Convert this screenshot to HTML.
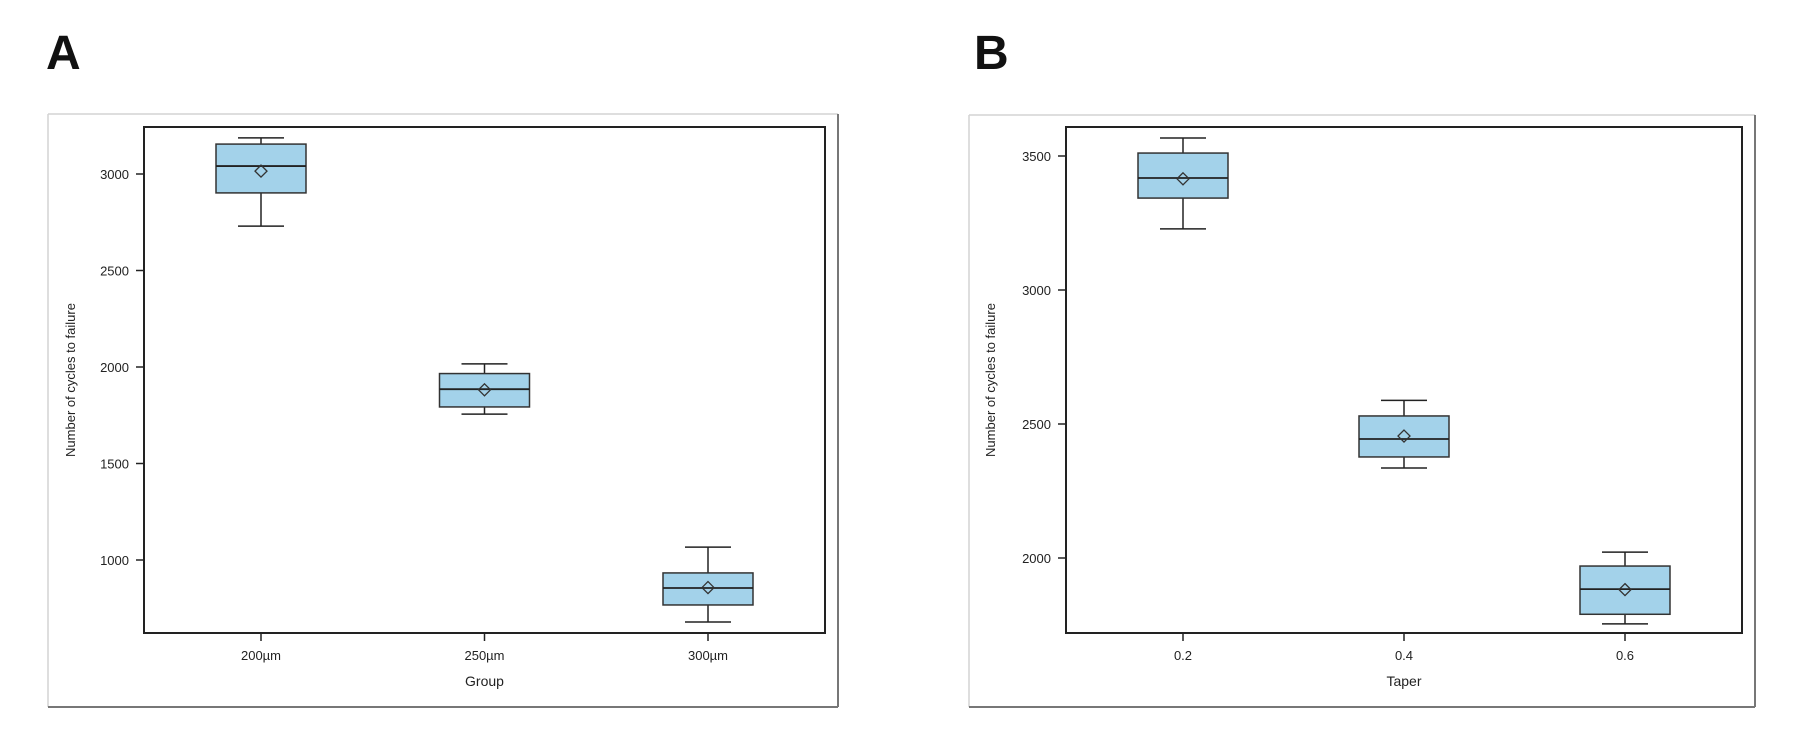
<!DOCTYPE html>
<html><head><meta charset="utf-8"><style>
html,body{margin:0;padding:0;background:#fff;}
svg{display:block;font-family:"Liberation Sans",Arial,sans-serif;}
</style></head><body>
<svg id="c" width="1800" height="755" viewBox="0 0 1800 755"></svg>
<script>
const catsA = ["200µm","250µm","300µm"];
const upperA = [3187,2016,1067];
const q3A = [3155,1966,933];
const medA = [3041,1885,855];
const meanA = [3015,1882,857];
const q1A = [2902,1793,767];
const lowerA = [2730,1756,679];
const ticksA = [1000,1500,2000,2500,3000];

const catsB = ["0.2","0.4","0.6"];
const upperB = [3567,2588,2022];
const q3B = [3511,2530,1970];
const medB = [3418,2444,1884];
const meanB = [3415,2455,1882];
const q1B = [3343,2377,1790];
const lowerB = [3228,2336,1754];
const ticksB = [2000,2500,3000,3500];

const NS="http://www.w3.org/2000/svg";
const svg=document.getElementById('c');
function mk(tag,attrs,parent,name){const e=document.createElementNS(NS,tag);for(const k in attrs)e.setAttribute(k,attrs[k]);


(parent||svg).appendChild(e);return e;}

function panel(cfg){
  const g=mk('g',{},svg,cfg.id);
  const L=cfg.left,R=cfg.right,T=127,B=633;
  const y=v=>cfg.y0+(cfg.v0-v)*cfg.k;
  const n=cfg.cats.length, step=(R-L-234)/(n-1);
  const x=i=>L+117+i*step;
  // outer frame
  mk('line',{x1:cfg.ol,y1:cfg.ot,x2:cfg.or,y2:cfg.ot,stroke:'#d4d4d4','stroke-width':1.5},g,'frame-top');
  mk('line',{x1:cfg.ol,y1:cfg.ot,x2:cfg.ol,y2:707,stroke:'#d4d4d4','stroke-width':1.5},g,'frame-left');
  mk('line',{x1:cfg.or,y1:cfg.ot,x2:cfg.or,y2:707,stroke:'#777','stroke-width':2},g,'frame-right');
  mk('line',{x1:cfg.ol,y1:707,x2:cfg.or,y2:707,stroke:'#777','stroke-width':2},g,'frame-bottom');
  const lab=mk('text',{x:cfg.lx,y:69,'font-size':48,'font-weight':'bold',fill:'#111'},g,'panel-label');lab.textContent=cfg.label;
  mk('rect',{x:L,y:T,width:R-L,height:B-T,fill:'none',stroke:'#222','stroke-width':2},g,'plot-area');
  cfg.ticks.forEach(t=>{const yy=y(t);
    mk('line',{x1:L-8,y1:yy,x2:L,y2:yy,stroke:'#222','stroke-width':1.5},g,'y-tick');
    const tx=mk('text',{x:L-15,y:yy+5,'font-size':13,'text-anchor':'end',fill:'#222'},g,'y-tick-label');tx.textContent=t;});
  const yt=mk('text',{x:0,y:0,'font-size':13,'text-anchor':'middle',fill:'#222',transform:`translate(${cfg.ytx},380) rotate(-90)`},g,'y-axis-title');yt.textContent='Number of cycles to failure';
  const xt=mk('text',{x:(L+R)/2,y:686,'font-size':14,'text-anchor':'middle',fill:'#222'},g,'x-axis-title');xt.textContent=cfg.xtitle;
  cfg.cats.forEach((c,i)=>{const cx=x(i);
    mk('line',{x1:cx,y1:B,x2:cx,y2:B+8,stroke:'#222','stroke-width':1.5},g,'x-tick');
    const tl=mk('text',{x:cx,y:660,'font-size':13,'text-anchor':'middle',fill:'#222'},g,'x-tick-label');tl.textContent=c;
    const bg=mk('g',{},g,'box-'+c);
    mk('line',{x1:cx,y1:y(cfg.up[i]),x2:cx,y2:y(cfg.q3[i]),stroke:'#222','stroke-width':1.5},bg,'upper-whisker');
    mk('line',{x1:cx,y1:y(cfg.q1[i]),x2:cx,y2:y(cfg.lo[i]),stroke:'#222','stroke-width':1.5},bg,'lower-whisker');
    mk('line',{x1:cx-23,y1:y(cfg.up[i]),x2:cx+23,y2:y(cfg.up[i]),stroke:'#222','stroke-width':1.5},bg,'upper-cap');
    mk('line',{x1:cx-23,y1:y(cfg.lo[i]),x2:cx+23,y2:y(cfg.lo[i]),stroke:'#222','stroke-width':1.5},bg,'lower-cap');
    mk('rect',{x:cx-45,y:y(cfg.q3[i]),width:90,height:y(cfg.q1[i])-y(cfg.q3[i]),fill:'#a3d2ea',stroke:'#333','stroke-width':1.5},bg,'iqr-box');
    mk('line',{x1:cx-45,y1:y(cfg.med[i]),x2:cx+45,y2:y(cfg.med[i]),stroke:'#222','stroke-width':1.8},bg,'median-line');
    const my=y(cfg.mean[i]);
    mk('polygon',{points:`${cx},${my-6} ${cx+6},${my} ${cx},${my+6} ${cx-6},${my}`,fill:'none',stroke:'#333','stroke-width':1.3},bg,'mean-marker');
  });
}
panel({id:'panel-a',label:'A',lx:46,left:144,right:825,ol:48,ot:114,or:838,y0:174,v0:3000,k:0.193,ticks:ticksA,cats:catsA,
  up:upperA,q3:q3A,med:medA,mean:meanA,q1:q1A,lo:lowerA,ytx:75,xtitle:'Group'});
panel({id:'panel-b',label:'B',lx:974,left:1066,right:1742,ol:969,ot:115,or:1755,y0:156,v0:3500,k:0.268,ticks:ticksB,cats:catsB,
  up:upperB,q3:q3B,med:medB,mean:meanB,q1:q1B,lo:lowerB,ytx:995,xtitle:'Taper'});
</script>
</body></html>
